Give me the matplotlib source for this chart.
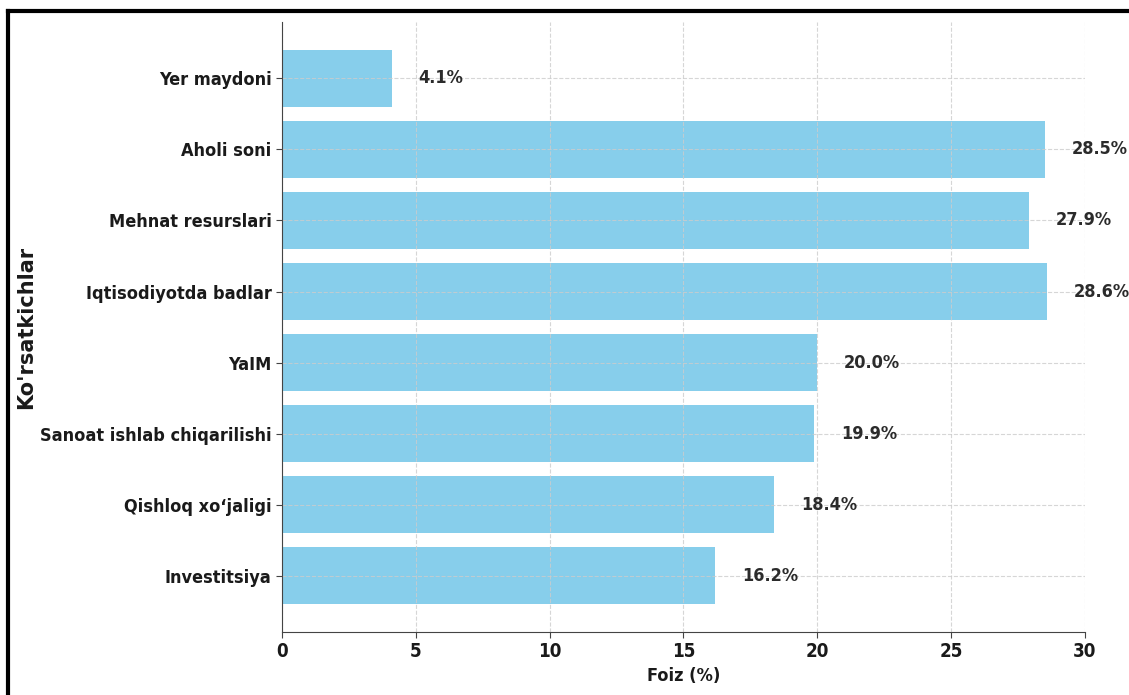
import matplotlib.pyplot as plt
from matplotlib.lines import Line2D

# Data
categories = ["Yer maydoni", "Aholi soni", "Mehnat resurslari", "Iqtisodiyotda badlar",
              "YaIM", "Sanoat ishlab chiqarilishi", "Qishloq xo\u2018jaligi", "Investitsiya"]
values = [4.1, 28.5, 27.9, 28.6, 20.0, 19.9, 18.4, 16.2]
xticks = [0, 5, 10, 15, 20, 25, 30]

plt.rcParams['font.family'] = 'DejaVu Sans'
plt.rcParams['font.weight'] = 'bold'

fig = plt.figure(figsize=(11.29, 6.95), dpi=100)
ax = fig.add_axes([0.2498, 0.0906, 0.711, 0.8775])

ypos = list(range(len(categories)))
ax.barh(ypos, values, height=0.8, color='#87CEEB')
ax.invert_yaxis()

for y, v in zip(ypos, values):
    ax.text(v + 1, y, f'{v:.1f}%', va='center', ha='left', fontsize=13,
            fontweight='bold', fontstretch='condensed', color='#2b2b2b')

ax.set_yticks(ypos)
ax.set_yticklabels(categories, fontsize=13, fontweight='bold', fontstretch='condensed', color='#1a1a1a')
ax.set_xticks(xticks)
ax.set_xticklabels([str(t) for t in xticks], fontsize=13.5, fontweight='bold',
                   fontstretch='condensed', color='#1a1a1a')
ax.set_xlim(0, 30)

ax.set_xlabel('Foiz (%)', fontsize=13, fontweight='bold', fontstretch='condensed', color='#1a1a1a')
ax.xaxis.set_label_coords(0.5, -0.058)
ax.set_ylabel("Ko'rsatkichlar", fontsize=15, fontweight='bold', color='#1a1a1a')
ax.yaxis.set_label_coords(-0.306, 0.5)

ax.grid(True, linestyle='--', color='#cccccc', linewidth=0.8, alpha=0.8)
ax.spines['top'].set_visible(False)
ax.spines['right'].set_visible(False)
ax.spines['left'].set_color('#444444')
ax.spines['bottom'].set_color('#444444')
ax.tick_params(axis='both', length=4, color='#444444')

# black frame around the picture (left and top visible)
fig.add_artist(Line2D([8 / 1129, 8 / 1129], [0, 1 - 11 / 695], transform=fig.transFigure,
                      color='black', linewidth=3))
fig.add_artist(Line2D([8 / 1129, 1], [1 - 11 / 695, 1 - 11 / 695], transform=fig.transFigure,
                      color='black', linewidth=3))

fig.savefig('out.png', dpi=100)
